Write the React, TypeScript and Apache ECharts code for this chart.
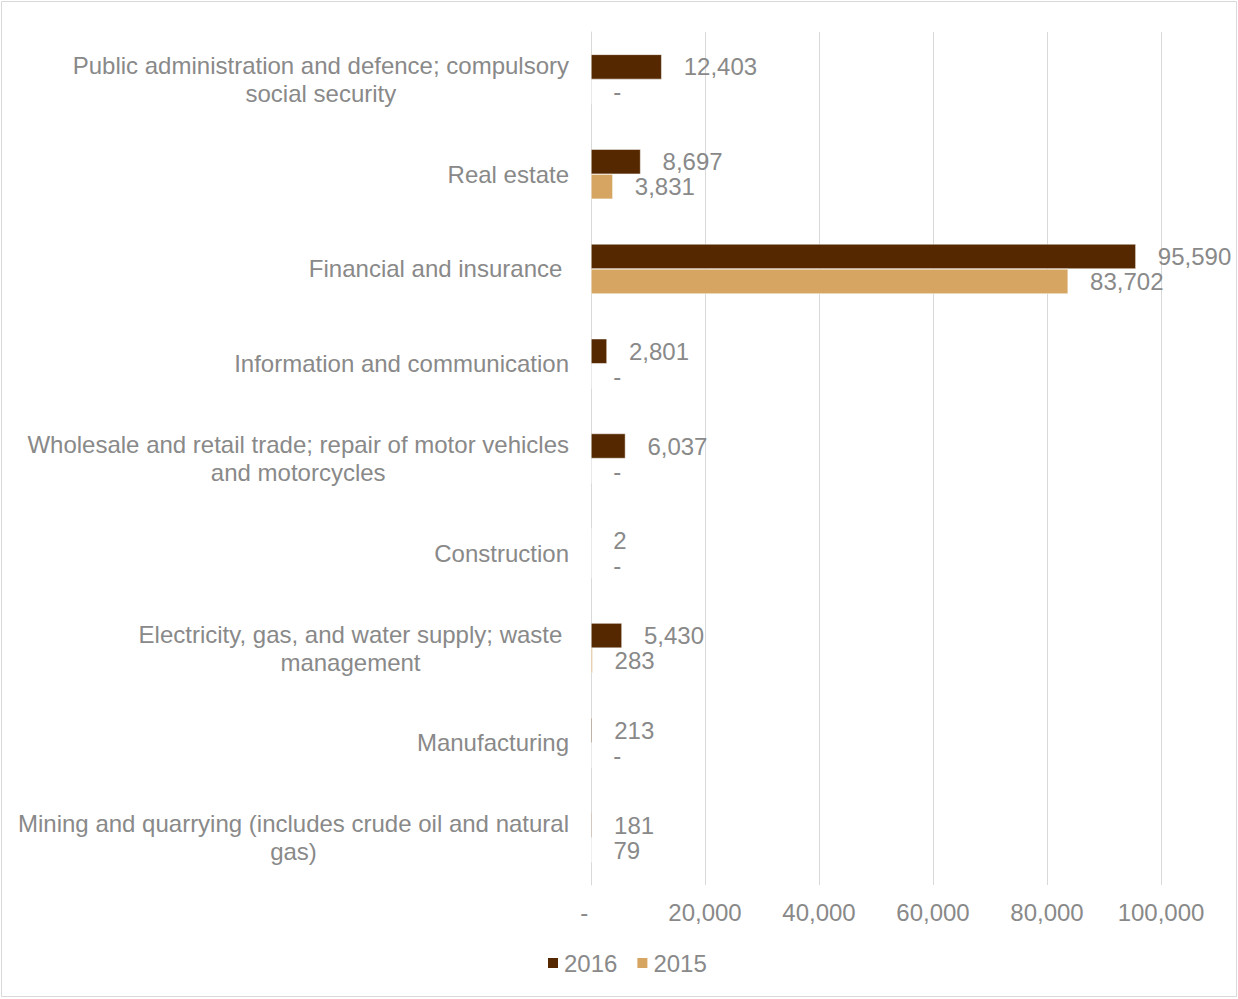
import React, { useEffect, useRef } from "react";
import * as echarts from "echarts";

const categories = [
  "Mining and quarrying (includes crude oil and natural gas)",
  "Manufacturing",
  "Electricity, gas, and water supply; waste management",
  "Construction",
  "Wholesale and retail trade; repair of motor vehicles and motorcycles",
  "Information and communication",
  "Financial and insurance",
  "Real estate",
  "Public administration and defence; compulsory social security",
];
const values2016 = [181, 213, 5430, 2, 6037, 2801, 95590, 8697, 12403];
const values2015 = [79, 0, 283, 0, 0, 0, 83702, 3831, 0];
const xTicks = [0, 20000, 40000, 60000, 80000, 100000];

const labelLines: Record<string, string[]> = {
  "Mining and quarrying (includes crude oil and natural gas)": ["Mining and quarrying (includes crude oil and natural", "gas)"],
  "Electricity, gas, and water supply; waste management": ["Electricity, gas, and water supply; waste ", "management "],
  "Wholesale and retail trade; repair of motor vehicles and motorcycles": ["Wholesale and retail trade; repair of motor vehicles", "and motorcycles"],
  "Financial and insurance": ["Financial and insurance "],
  "Public administration and defence; compulsory social security": ["Public administration and defence; compulsory", "social security"],
};

const TEXT = "#898989";
const FONT = "'Liberation Sans', Arial, sans-serif";
const C2016 = "#552800";
const C2015 = "#D5A561";

const fmt = (v: number) => (v === 0 ? "-" : v.toLocaleString("en-US"));

export default function App() {
  const ref = useRef<HTMLDivElement>(null);
  useEffect(() => {
    document.body.style.margin = "0";
    const chart = echarts.init(ref.current!, undefined, { renderer: "svg" });
    const labelCfg = {
      show: true,
      position: "right",
      distance: 22,
      color: TEXT,
      fontSize: 24,
      fontFamily: FONT,
      formatter: (p: any) => fmt(p.value),
    };
    chart.setOption({
      animation: false,
      backgroundColor: "#fff",
      graphic: [
        {
          type: "rect",
          shape: { x: 1.5, y: 1.5, width: 1235, height: 995 },
          style: { fill: "none", stroke: "#d9d9d9", lineWidth: 1 },
          silent: true,
        },
      ],
      grid: { left: 591, right: 77, top: 32, bottom: 114, containLabel: false },
      legend: {
        left: 541,
        top: 946,
        padding: 5,
        itemWidth: 12,
        itemHeight: 12,
        itemGap: 18,
        icon: "rect",
        data: ["2016", "2015"],
        textStyle: { color: TEXT, fontSize: 24, fontFamily: FONT },
      },
      xAxis: {
        type: "value",
        min: xTicks[0],
        max: xTicks[xTicks.length - 1],
        interval: 20000,
        axisLine: { show: false },
        axisTick: { show: false },
        splitLine: { lineStyle: { color: "#d9d9d9", width: 1 } },
        axisLabel: {
          color: TEXT,
          fontSize: 24,
          fontFamily: FONT,
          margin: 15,
          formatter: (v: number) => (v === 0 ? "-  " : v.toLocaleString("en-US")),
        },
      },
      yAxis: {
        type: "category",
        data: categories,
        axisLine: { show: true, lineStyle: { color: "#d9d9d9" } },
        axisTick: { show: false },
        axisLabel: {
          margin: 22,
          color: TEXT,
          fontSize: 24,
          fontFamily: FONT,
          lineHeight: 28,
          formatter: (v: string) =>
            (labelLines[v] || [v]).map((l) => `{c|${l}}`).join("\n"),
          rich: {
            c: { align: "center", color: TEXT, fontSize: 24, fontFamily: FONT, lineHeight: 28 },
          },
        },
      },
      series: [
        {
          name: "2016",
          type: "bar",
          data: values2016,
          barWidth: 25,
          barGap: "0%",
          itemStyle: { color: C2016, borderColor: "#ffffff", borderWidth: 0.5 },
          label: labelCfg,
        },
        {
          name: "2015",
          type: "bar",
          data: values2015,
          barWidth: 25,
          barGap: "0%",
          itemStyle: { color: C2015, borderColor: "#ffffff", borderWidth: 0.5 },
          label: labelCfg,
        },
      ],
    });
    return () => chart.dispose();
  }, []);
  return (
    <div
      ref={ref}
      style={{ position: "absolute", left: 0, top: 0, width: 1238, height: 999 }}
    />
  );
}
